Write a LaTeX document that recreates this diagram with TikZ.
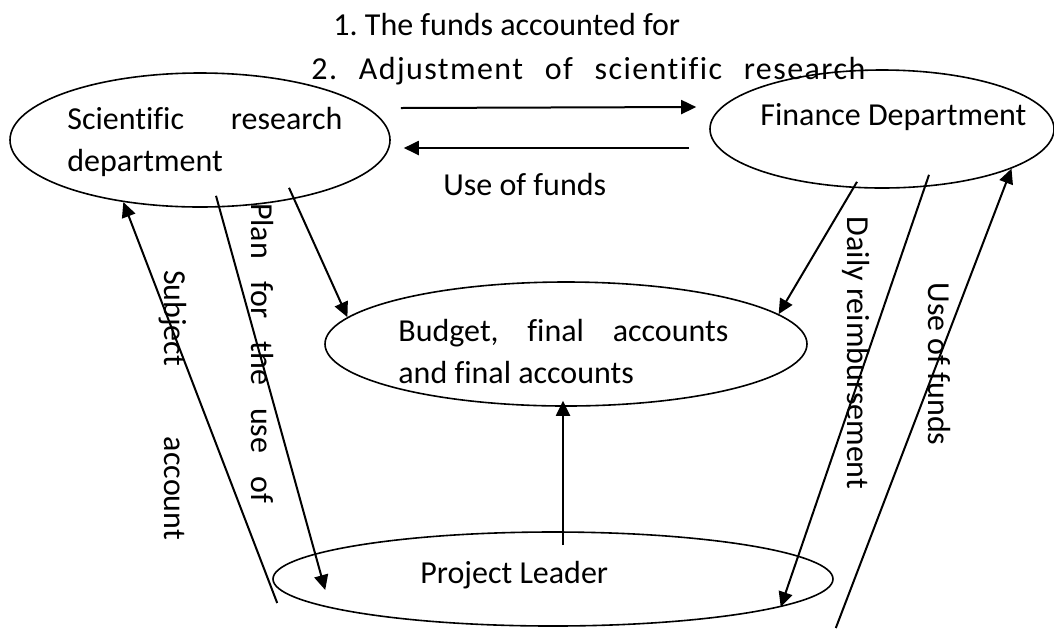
\documentclass[tikz,border=0pt]{standalone}
\usepackage{fontspec}
\setmainfont{Carlito}[Ligatures=NoCommon]
\newfontfamily\spreadfont{Carlito}[Ligatures=NoCommon, LetterSpace=4.5]
\usetikzlibrary{shapes.geometric,arrows.meta}

\begin{document}
\begin{tikzpicture}[x=0.5pt, y=-0.5pt,
    dept/.style={ellipse, draw, line width=0.8pt, inner sep=0pt},
    flow/.style={line width=1pt, -{Triangle[length=7.5pt,width=7pt]}},
    words/.style={inner sep=0pt, font=\fontsize{16}{21}\selectfont\frenchspacing}]
    \useasboundingbox (0,0) rectangle (1054,628);

    \node[dept, minimum width=190pt, minimum height=67pt] (sci) at (200,140) {};
    \node[dept, minimum width=172pt, minimum height=59pt] (fin) at (882,129) {};
    \node[dept, minimum width=241pt, minimum height=62pt] (bud) at (566,344) {};
    \node[dept, minimum width=280pt, minimum height=47pt] (pl) at (553,579) {};

    \node[words, anchor=west, align=left] (scitext) at (67,142) {\makebox[137.5pt][s]{Scientific research}\\department};
    \node[words, anchor=base west] (fintext) at (760,125) {Finance Department};
    \node[words, anchor=west, align=left] (budtext) at (398,351) {\makebox[165pt][s]{Budget, final accounts}\\and final accounts};
    \node[words, anchor=base west] (pltext) at (420,583) {Project Leader};

    \node[words, anchor=base west] (accounted) at (333,35) {1. The funds accounted for};
    \node[words, anchor=base west] (adjust) at (311,79) {\spreadfont\makebox[277pt][s]{2. Adjustment of scientific research}};
    \node[words, anchor=base west] (usefunds) at (443,195) {Use of funds};

    \node[words, rotate=-90] (plan) at (262,353) {\makebox[150pt][s]{Plan for the use of}};
    \node[words, rotate=-90] (subject) at (172.5,405) {\makebox[135pt][s]{Subject account}};
    \node[words, rotate=-90] (daily) at (856,353) {Daily reimbursement};
    \node[words, rotate=-90] (usefundsb) at (939,364) {Use of funds};

    \draw[flow] ([shift={(10,-32)}]sci.east) -- ([shift={(-13,-22)}]fin.west);
    \draw[flow] ([shift={(-20,19)}]fin.west) -- ([shift={(13,8)}]sci.east);

    \draw[flow] ([shift={(89,-20)}]sci.south) -- (bud.173.7);
    \draw[flow] ([shift={(16,-12)}]sci.south) -- ([shift={(53,11)}]pl.west);
    \draw[flow] ([shift={(5,24)}]pl.west) -- (sci.219);

    \draw[flow] ([shift={(-25,-7)}]fin.south) -- (bud.8.6);
    \draw[flow] ([shift={(47,-14)}]fin.south) -- (pl.-7.2);
    \draw[flow] ([shift={(2,49)}]pl.east) -- (fin.-17);

    \draw[flow] ([shift={(10,-34)}]pl.center) -- ([shift={(-3,-6)}]bud.south);
\end{tikzpicture}
\end{document}
